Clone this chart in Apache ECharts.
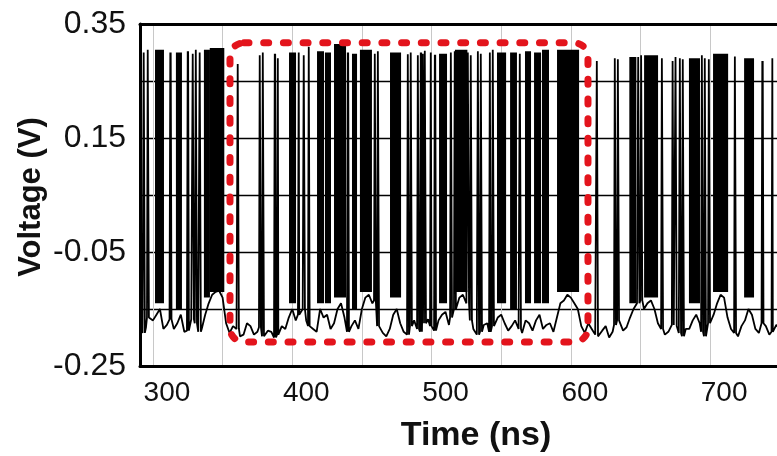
<!DOCTYPE html>
<html>
<head>
<meta charset="utf-8">
<script src="https://cdn.jsdelivr.net/npm/echarts@6/dist/echarts.min.js"></script>
<style>html,body{margin:0;padding:0;background:#fff}#c{width:777px;height:456px}</style>
</head>
<body>
<div id="c"></div>
<script>
// ---- data ----
const xTickValues = [300, 350, 400, 450, 500, 550, 600, 650, 700];
const xLabelValues = [300, 400, 500, 600, 700];
const yTickValues = [-0.25, -0.15, -0.05, 0.05, 0.15, 0.25, 0.35];
const yLabelValues = [-0.25, -0.05, 0.15, 0.35];

// baseline (resting voltage between spikes): [time ns, V]
const baseline = [
[290,-0.175],[292.5,-0.192],[295,-0.182],[297.5,-0.165],[300,-0.170],[302.5,-0.160],[305,-0.150],[307.5,-0.185],
[310,-0.178],[312.5,-0.168],[315,-0.185],[317.5,-0.175],[320,-0.160],[322.5,-0.190],[325,-0.188],[327.5,-0.168],
[330,-0.175],[332.5,-0.190],[335,-0.185],[337.5,-0.160],[340,-0.140],[342.5,-0.125],[345,-0.120],[347.5,-0.118],
[350,-0.130],[352.5,-0.175],[355,-0.192],[357.5,-0.180],[360,-0.185],[362.5,-0.198],[365,-0.195],[367.5,-0.175],
[370,-0.180],[372.5,-0.195],[375,-0.190],[377.5,-0.182],[380,-0.198],[382.5,-0.188],[385,-0.190],[387.5,-0.200],
[390,-0.195],[392.5,-0.180],[395,-0.185],[397.5,-0.165],[400,-0.150],[402.5,-0.170],[405,-0.160],[407.5,-0.150],
[410,-0.170],[412.5,-0.180],[415,-0.185],[417.5,-0.190],[420,-0.150],[422.5,-0.165],[425,-0.160],[427.5,-0.185],
[430,-0.175],[432.5,-0.150],[435,-0.140],[437.5,-0.165],[440,-0.190],[442.5,-0.180],[445,-0.170],[447.5,-0.185],
[450,-0.150],[452.5,-0.130],[455,-0.125],[457.5,-0.140],[460,-0.135],[462.5,-0.180],[465,-0.192],[467.5,-0.198],
[470,-0.185],[472.5,-0.160],[475,-0.150],[477.5,-0.175],[480,-0.190],[482.5,-0.195],[485,-0.180],[487.5,-0.170],
[490,-0.185],[492.5,-0.190],[495,-0.175],[497.5,-0.168],[500,-0.180],[502.5,-0.188],[505,-0.170],[507.5,-0.160],
[510,-0.155],[512.5,-0.178],[515,-0.165],[517.5,-0.150],[520,-0.130],[522.5,-0.125],[525,-0.140],[527.5,-0.170],
[530,-0.185],[532.5,-0.195],[535,-0.190],[537.5,-0.178],[540,-0.175],[542.5,-0.190],[545,-0.180],[547.5,-0.165],
[550,-0.160],[552.5,-0.175],[555,-0.188],[557.5,-0.180],[560,-0.170],[562.5,-0.185],[565,-0.192],[567.5,-0.170],
[570,-0.175],[572.5,-0.188],[575,-0.170],[577.5,-0.160],[580,-0.185],[582.5,-0.178],[585,-0.175],[587.5,-0.190],
[590,-0.165],[592.5,-0.140],[595,-0.135],[597.5,-0.125],[600,-0.130],[602.5,-0.140],[605,-0.150],[607.5,-0.180],
[610,-0.192],[612.5,-0.175],[615,-0.185],[617.5,-0.195],[620,-0.198],[622.5,-0.188],[625,-0.180],[627.5,-0.200],
[630,-0.190],[632.5,-0.178],[635,-0.170],[637.5,-0.188],[640,-0.182],[642.5,-0.165],[645,-0.150],[647.5,-0.140],
[650,-0.135],[652.5,-0.150],[655,-0.140],[657.5,-0.135],[660,-0.150],[662.5,-0.175],[665,-0.185],[667.5,-0.195],
[670,-0.190],[672.5,-0.178],[675,-0.180],[677.5,-0.192],[680,-0.198],[682.5,-0.185],[685,-0.185],[687.5,-0.170],
[690,-0.160],[692.5,-0.175],[695,-0.190],[697.5,-0.198],[700,-0.175],[702.5,-0.160],[705,-0.140],[707.5,-0.125],
[710,-0.130],[712.5,-0.165],[715,-0.185],[717.5,-0.192],[720,-0.198],[722.5,-0.180],[725,-0.170],[727.5,-0.150],
[730,-0.160],[732.5,-0.185],[735,-0.192],[737.5,-0.175],[740,-0.180],[742.5,-0.195],[745,-0.190],[747.5,-0.178],
[750,-0.185]
];

// isolated spikes: [time ns, peak V]
const spikes = [
[293.5,0.300],[296.4,0.305],[312.6,0.300],[325.1,0.302],[328.7,0.298],[330.9,0.305],[333.7,0.300],
[361.0,0.280],[376.8,0.295],[379.0,0.300],[387.6,0.298],[389.8,0.290],[404.8,0.300],[408.4,0.295],
[412.0,0.310],[440.0,0.300],[459.4,0.298],[461.6,0.302],[483.1,0.297],[485.2,0.300],[490.3,0.295],
[492.4,0.300],[493.9,0.298],[495.3,0.303],[499.6,0.300],[502.5,0.296],[514.0,0.300],[516.8,0.302],
[526.2,0.300],[528.3,0.295],[533.4,0.302],[535.5,0.298],[542.0,0.300],[544.1,0.305],[563.5,0.298],
[618.8,0.285],[631.7,0.290],[633.9,0.288],[648.5,0.292],[650.6,0.295],[665.5,0.290],[673.2,0.285],
[675.3,0.292],[678.4,0.290],[680.5,0.288],[694.2,0.295],[696.3,0.290],[699.2,0.288],[717.9,0.293],
[737.6,0.285],[744.8,0.290]
];

// dense bursts: [start ns, end ns, peak V, floor V]
const bursts = [
[302.2,307.2,0.305,-0.14],[317.2,320.1,0.300,-0.15],[337.3,340.2,0.305,-0.13],[341.5,350.5,0.308,-0.12],
[398.4,402.0,0.300,-0.14],[418.5,422.1,0.302,-0.14],[424.2,427.1,0.300,-0.14],[430.7,437.9,0.315,-0.13],
[443.6,445.8,0.298,-0.15],[449.3,456.5,0.305,-0.12],[470.9,477.4,0.300,-0.13],[506.1,510.4,0.298,-0.14],
[517.5,525.0,0.305,-0.12],[547.7,552.8,0.300,-0.14],[557.1,560.6,0.300,-0.15],[567.8,570.7,0.302,-0.14],
[574.3,577.9,0.300,-0.14],[580.0,583.6,0.305,-0.14],[590.8,605.2,0.305,-0.12],[642.7,646.3,0.292,-0.14],
[653.3,661.9,0.295,-0.13],[685.5,692.0,0.290,-0.14],[702.8,712.2,0.298,-0.12],[725.1,730.8,0.290,-0.13]
];

// highlighted window (red dashed box): [t0, vTop, t1, vBottom]
const highlight = [[355.3, 0.317, 612.3, -0.208]];

// ---- build trace ----
function nearestBase(t){
  let best = baseline[0];
  for (const b of baseline) if (Math.abs(b[0]-t) < Math.abs(best[0]-t)) best = b;
  return best[1];
}
const trace = baseline.map(p => [p[0], p[1]]);
for (const s of spikes) {
  const b = nearestBase(s[0]);
  trace.push([s[0]-0.7, b], [s[0]-0.15, s[1]], [s[0]+0.15, s[1]], [s[0]+0.7, b]);
}
trace.sort((a,b)=>a[0]-b[0]);

const chart = echarts.init(document.getElementById('c'), null, {renderer:'canvas'});
const font = "'Liberation Sans',Arial,sans-serif";
const XMIN = 290.7, XMAX = 748;
chart.setOption({
  animation: false,
  backgroundColor: '#fff',
  grid: {left: 140, right: 0, top: 24, bottom: 90},
  xAxis: [{
    type: 'value', min: XMIN, max: XMAX, position: 'bottom',
    axisLine: {show: true, onZero: false, lineStyle: {color: '#000', width: 3}},
    axisTick: {show: false, customValues: xTickValues},
    splitLine: {show: true, lineStyle: {color: '#c8c8c8', width: 1}},
    axisLabel: {customValues: xLabelValues, color: '#111', fontFamily: font, fontSize: 28,
      margin: 13, padding: [0,0,0,28], formatter: v => String(Math.round(v))}
  },{
    type: 'value', min: XMIN, max: XMAX, position: 'top',
    axisLine: {show: true, onZero: false, lineStyle: {color: '#000', width: 3}},
    axisTick: {show: false}, axisLabel: {show: false}, splitLine: {show: false}
  }],
  yAxis: {
    type: 'value', min: -0.25, max: 0.35,
    axisLine: {show: true, onZero: false, lineStyle: {color: '#000', width: 3}},
    axisTick: {show: false, customValues: yTickValues},
    splitLine: {show: true, lineStyle: {color: '#000', width: 1.3}},
    axisLabel: {customValues: yLabelValues, color: '#111', fontFamily: font, fontSize: 32,
      margin: 14, formatter: v => v.toFixed(2)}
  },
  series: [{
    type: 'line', data: trace, showSymbol: false, symbol: 'none',
    lineStyle: {color: '#000', width: 1.8}, z: 3
  },{
    type: 'custom', data: bursts, z: 4,
    renderItem: (params, api) => {
      const p0 = api.coord([api.value(0), api.value(2)]);
      const p1 = api.coord([api.value(1), api.value(3)]);
      return {type: 'rect', shape: {x: p0[0]-1, y: p0[1], width: p1[0]-p0[0]+2, height: p1[1]-p0[1]},
        style: {fill: '#000'}};
    }
  },{
    type: 'custom', data: highlight, z: 10, clip: false,
    renderItem: (params, api) => {
      const p0 = api.coord([api.value(0), api.value(1)]);
      const p1 = api.coord([api.value(2), api.value(3)]);
      return {type: 'rect', shape: {x: p0[0], y: p0[1], width: p1[0]-p0[0], height: p1[1]-p0[1], r: 14},
        style: {fill: 'none', stroke: '#e3141c', lineWidth: 7, lineDash: [5, 14.7], lineCap: 'round'}};
    }
  }],
  graphic: [{
    type: 'text', x: 31, y: 197, rotation: Math.PI/2,
    style: {text: 'Voltage (V)', font: "bold 31px 'Liberation Sans', Arial, sans-serif", fill: '#111',
      textAlign: 'center', textVerticalAlign: 'middle'}
  },{
    type: 'text', x: 476, y: 436,
    style: {text: 'Time (ns)', font: "bold 34px 'Liberation Sans', Arial, sans-serif", fill: '#111',
      textAlign: 'center', textVerticalAlign: 'middle'}
  }]
});
</script>
</body>
</html>
